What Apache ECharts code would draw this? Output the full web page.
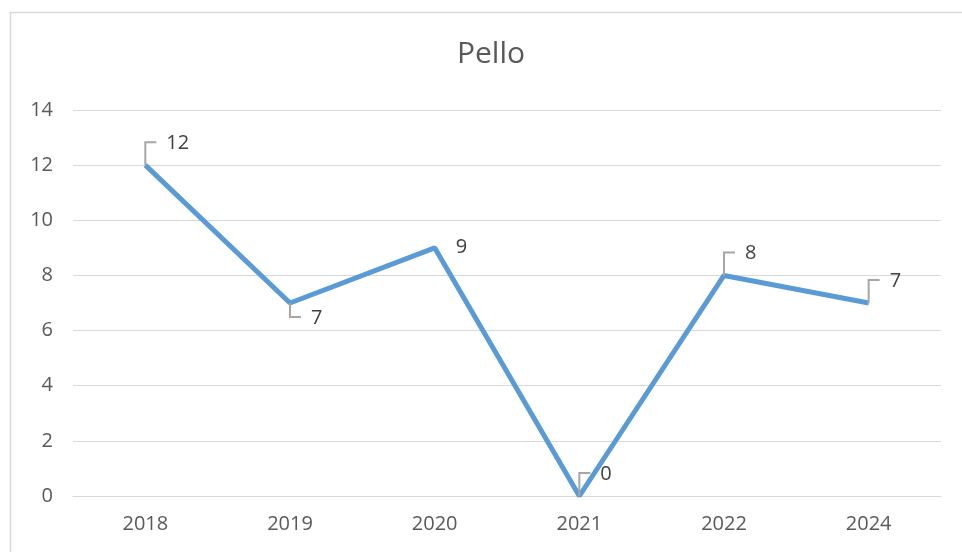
<!DOCTYPE html>
<html><head><meta charset="utf-8">
<script src="https://cdn.jsdelivr.net/npm/echarts@6/dist/echarts.min.js"></script>
<style>html,body{margin:0;padding:0;background:#fff}#c{width:962px;height:552px}</style>
</head><body><div id="c"></div>
<script>
const title = 'Pello';
const categories = ['2018','2019','2020','2021','2022','2024'];
const values = [12, 7, 9, 0, 8, 7];
const yTicks = {min: 0, max: 14, interval: 2};
// label placement: 1 = above-right, -1 = below-right, 0 = above-right without leader
const labelSide = [1, -1, 0, 1, 1, 1];

const chart = echarts.init(document.getElementById('c'), null, {renderer: 'canvas'});
const font = '"Open Sans", "Noto Sans", sans-serif';
chart.setOption({
  animation: false,
  backgroundColor: '#fff',
  graphic: [{type: 'rect', left: 8, top: 10, shape: {width: 1000, height: 600}, style: {fill: 'none', stroke: '#d9d9d9', lineWidth: 1.5}, silent: true}],
  title: {text: title, left: 486, textAlign: 'center', top: 34, textStyle: {fontFamily: font, fontSize: 30, fontWeight: 'normal', color: '#595959'}},
  grid: {left: 73, right: 21, top: 110, bottom: 56},
  xAxis: {type: 'category', data: categories, boundaryGap: true,
    axisLine: {lineStyle: {color: '#d9d9d9', width: 1}}, axisTick: {show: false},
    axisLabel: {color: '#595959', fontSize: 20, fontFamily: font, margin: 18}},
  yAxis: {type: 'value', min: yTicks.min, max: yTicks.max, interval: yTicks.interval,
    axisLine: {show: false}, axisTick: {show: false},
    splitLine: {lineStyle: {color: '#d9d9d9', width: 1}},
    axisLabel: {color: '#595959', fontSize: 20, fontFamily: font, margin: 20}},
  series: [
    {type: 'line', data: values, symbol: 'none', lineStyle: {color: '#5b9bd5', width: 5}, z: 2},
    {type: 'custom', data: values.map((v, i) => [i, v]), z: 3,
      renderItem: function (params, api) {
        const i = params.dataIndex;
        const p = api.coord([api.value(0), api.value(1)]);
        const side = labelSide[i];
        const dy = side === -1 ? 14 : -23;
        const ly = p[1] + dy;
        const children = [];
        if (side !== 0) {
          children.push({type: 'polyline', shape: {points: [[p[0], p[1]], [p[0], ly], [p[0] + 11, ly]]},
            style: {stroke: '#a6a6a6', lineWidth: 2, fill: 'none'}});
        }
        children.push({type: 'text', x: p[0] + 21, y: side === 0 ? p[1] - 1 : ly + 1,
          style: {text: String(api.value(1)), fill: '#404040', font: '20px ' + font, textAlign: 'left', textVerticalAlign: 'middle'}});
        return {type: 'group', children: children};
      }}
  ]
});
</script></body></html>
